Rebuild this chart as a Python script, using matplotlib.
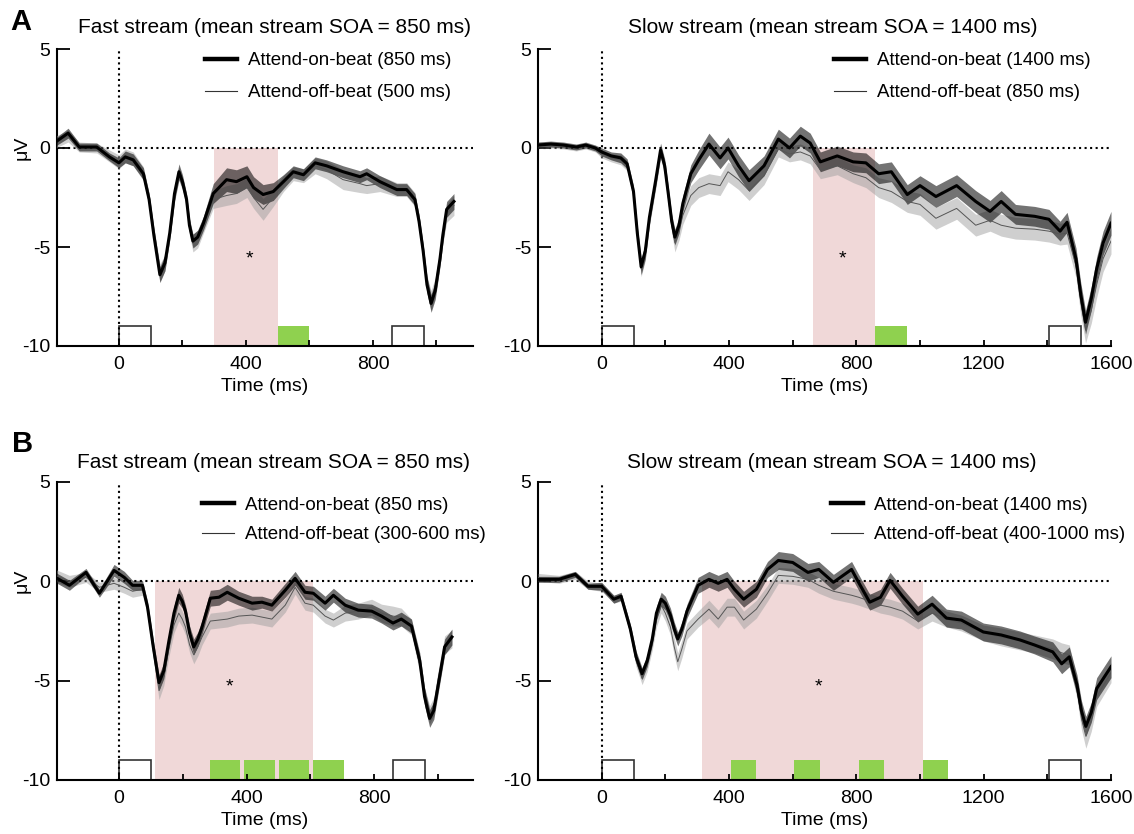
import matplotlib
matplotlib.use('Agg')
import numpy as np
import matplotlib.pyplot as plt
from matplotlib.lines import Line2D

plt.rcParams['font.family'] = ['Liberation Sans', 'DejaVu Sans']
plt.rcParams['axes.unicode_minus'] = False

# ---- panel A, fast stream ----
t_a1 = [-200, -160, -125, -70, -30, 0, 20, 45, 77, 95, 110, 129, 145, 160, 175, 189, 200, 213, 222, 233,
        248, 266, 297, 339, 370, 403, 424, 454, 486, 518, 549, 581, 618, 654, 706, 759, 780, 822, 875, 906,
        932, 945, 958, 970, 983, 996, 1011, 1020, 1032, 1055]
on_a1 = [0.3, 0.75, 0.05, 0.05, -0.45, -0.75, -0.45, -0.6, -1.3, -2.6, -4.4, -6.4, -5.8, -4.3, -2.3, -1.2, -1.7, -2.6, -3.9, -4.7,
         -4.5, -3.8, -2.3, -1.6, -1.7, -1.45, -2.0, -2.35, -2.2, -1.7, -1.2, -1.35, -0.75, -0.9, -1.2, -1.45, -1.3, -1.7, -2.1, -2.1,
         -2.6, -3.7, -5.2, -6.9, -7.85, -7.2, -5.6, -4.4, -3.1, -2.7]
off_a1 = [0.3, 0.6, 0.05, 0.0, -0.4, -0.7, -0.4, -0.55, -1.3, -2.6, -4.4, -6.3, -5.8, -4.3, -2.4, -1.3, -1.8, -2.7, -4.0, -4.8,
          -4.6, -3.9, -2.6, -2.4, -2.3, -2.0, -2.5, -3.1, -2.5, -1.8, -1.3, -1.4, -0.9, -1.1, -1.6, -1.8, -1.9, -1.8, -2.1, -2.1,
          -2.6, -3.8, -5.3, -6.9, -7.7, -7.0, -5.5, -4.4, -3.3, -2.9]
on_sem_a1 = [0.2, 0.25, 0.2, 0.2, 0.2, 0.25, 0.3, 0.3, 0.3, 0.3, 0.35, 0.4, 0.4, 0.35, 0.35, 0.4, 0.35, 0.3, 0.35, 0.35,
             0.35, 0.35, 0.5, 0.6, 0.6, 0.55, 0.55, 0.5, 0.45, 0.35, 0.3, 0.3, 0.3, 0.3, 0.3, 0.3, 0.3, 0.3, 0.3, 0.3,
             0.3, 0.35, 0.35, 0.4, 0.45, 0.45, 0.4, 0.4, 0.4, 0.4]
off_sem_a1 = [0.3, 0.3, 0.25, 0.25, 0.3, 0.35, 0.35, 0.35, 0.35, 0.35, 0.4, 0.45, 0.4, 0.35, 0.35, 0.35, 0.35, 0.35, 0.4, 0.45,
              0.45, 0.4, 0.45, 0.5, 0.5, 0.5, 0.55, 0.55, 0.45, 0.4, 0.35, 0.35, 0.4, 0.45, 0.5, 0.45, 0.4, 0.4, 0.35, 0.35,
              0.35, 0.4, 0.4, 0.45, 0.5, 0.45, 0.45, 0.45, 0.45, 0.5]

# ---- panel A, slow stream ----
t_a2 = [-200, -160, -120, -80, -50, -20, 0, 30, 60, 80, 100, 112, 124, 137, 150, 170, 185, 198, 210, 220,
        230, 243, 255, 280, 305, 337, 372, 397, 430, 463, 510, 555, 590, 624, 655, 687, 740, 790, 830, 870,
        910, 960, 1000, 1050, 1115, 1175, 1220, 1255, 1300, 1360, 1405, 1440, 1462, 1490, 1505, 1520, 1538, 1555, 1575, 1600]
on_a2 = [0.15, 0.2, 0.15, 0.05, 0.15, 0.0, -0.2, -0.4, -0.5, -0.8, -2.2, -4.3, -6.0, -5.2, -3.5, -1.6, -0.1, -0.9, -2.4, -3.7,
         -4.5, -3.9, -2.8, -1.3, -0.6, 0.2, -0.5, 0.0, -0.9, -1.65, -0.9, 0.45, 0.0, 0.6, 0.25, -0.7, -0.4, -0.7, -0.75, -1.3,
         -1.2, -2.35, -1.9, -2.45, -1.9, -2.7, -3.2, -2.7, -3.35, -3.45, -3.6, -4.2, -3.75, -5.6, -7.4, -8.8, -7.6, -6.1, -4.8, -3.8]
off_a2 = [0.15, 0.15, 0.1, 0.0, 0.1, -0.05, -0.3, -0.5, -0.6, -0.9, -2.3, -4.4, -6.1, -5.3, -3.6, -1.7, -0.2, -1.0, -2.6, -3.9,
          -4.8, -4.2, -3.4, -2.4, -2.0, -1.8, -1.9, -1.2, -1.6, -2.15, -1.4, -0.05, -0.3, -0.2, -0.4, -1.1, -0.9, -1.3, -1.5, -2.0,
          -2.2, -2.7, -2.85, -3.55, -3.05, -3.9, -3.65, -3.9, -4.05, -4.1, -4.2, -4.35, -4.3, -5.95, -7.8, -9.2, -8.2, -6.9, -5.6, -4.7]
on_sem_a2 = [0.15, 0.15, 0.15, 0.15, 0.15, 0.15, 0.2, 0.2, 0.25, 0.25, 0.3, 0.35, 0.4, 0.4, 0.35, 0.35, 0.35, 0.35, 0.35, 0.35,
             0.4, 0.4, 0.4, 0.45, 0.5, 0.55, 0.55, 0.55, 0.55, 0.55, 0.5, 0.5, 0.5, 0.5, 0.5, 0.5, 0.5, 0.5, 0.5, 0.5,
             0.5, 0.5, 0.5, 0.55, 0.55, 0.55, 0.55, 0.55, 0.5, 0.5, 0.5, 0.5, 0.5, 0.55, 0.6, 0.6, 0.6, 0.6, 0.6, 0.6]
off_sem_a2 = [0.15, 0.15, 0.15, 0.15, 0.15, 0.15, 0.2, 0.2, 0.25, 0.25, 0.3, 0.35, 0.4, 0.4, 0.35, 0.35, 0.35, 0.35, 0.35, 0.4,
              0.45, 0.45, 0.45, 0.5, 0.5, 0.5, 0.5, 0.5, 0.5, 0.5, 0.45, 0.4, 0.4, 0.4, 0.4, 0.45, 0.45, 0.45, 0.5, 0.5,
              0.55, 0.55, 0.55, 0.55, 0.55, 0.55, 0.55, 0.55, 0.55, 0.55, 0.55, 0.55, 0.55, 0.6, 0.65, 0.65, 0.65, 0.65, 0.65, 0.65]

# ---- panel B, fast stream ----
t_b1 = [-200, -156, -104, -62, -16, 16, 42, 73, 89, 107, 125, 140, 156, 172, 187, 198, 208, 221, 234, 247,
        260, 286, 313, 339, 375, 417, 448, 479, 521, 552, 583, 609, 646, 672, 709, 750, 792, 823, 859, 885,
        917, 943, 958, 974, 987, 1000, 1021, 1044]
on_b1 = [0.2, -0.2, 0.45, -0.6, 0.55, 0.2, -0.2, -0.2, -1.3, -3.3, -5.1, -4.5, -3.0, -1.6, -0.7, -1.0, -1.5, -2.6, -3.3, -2.9,
         -2.3, -0.85, -0.8, -0.55, -0.85, -1.1, -1.05, -1.2, -0.45, 0.15, -0.55, -0.6, -1.1, -0.7, -1.2, -1.45, -1.5, -1.75, -2.1, -1.9,
         -2.25, -4.0, -5.8, -6.9, -6.5, -5.3, -3.3, -2.8]
off_b1 = [0.3, 0.0, 0.2, -0.3, -0.1, -0.3, -0.5, -0.4, -1.4, -3.5, -5.5, -4.8, -3.4, -2.2, -1.6, -1.9, -2.3, -3.2, -3.7, -3.3,
          -2.8, -2.0, -1.95, -1.9, -1.75, -1.7, -1.8, -1.9, -1.2, -0.3, -1.1, -1.2, -1.75, -1.95, -1.6, -1.5, -1.3, -1.6, -1.75, -1.8,
          -2.3, -4.2, -5.8, -6.7, -6.3, -5.0, -3.2, -2.9]
on_sem_b1 = [0.25, 0.25, 0.2, 0.2, 0.3, 0.3, 0.25, 0.25, 0.3, 0.35, 0.4, 0.4, 0.35, 0.35, 0.4, 0.35, 0.3, 0.35, 0.4, 0.35,
             0.35, 0.4, 0.4, 0.4, 0.35, 0.35, 0.3, 0.3, 0.35, 0.35, 0.35, 0.35, 0.35, 0.35, 0.35, 0.35, 0.35, 0.35, 0.35, 0.35,
             0.35, 0.4, 0.45, 0.45, 0.45, 0.4, 0.4, 0.4]
off_sem_b1 = [0.3, 0.3, 0.25, 0.25, 0.3, 0.3, 0.3, 0.3, 0.3, 0.4, 0.45, 0.45, 0.4, 0.4, 0.4, 0.4, 0.4, 0.4, 0.45, 0.45,
              0.4, 0.4, 0.4, 0.4, 0.4, 0.4, 0.4, 0.4, 0.35, 0.35, 0.35, 0.35, 0.35, 0.35, 0.4, 0.4, 0.4, 0.45, 0.5, 0.45,
              0.4, 0.4, 0.45, 0.45, 0.45, 0.45, 0.45, 0.45]

# ---- panel B, slow stream ----
t_b2 = [-200, -134, -83, -43, 0, 38, 61, 90, 108, 127, 143, 159, 172, 187, 200, 216, 228, 239, 252, 268,
        303, 337, 366, 394, 417, 446, 486, 521, 555, 600, 648, 682, 728, 785, 807, 842, 876, 906, 945, 993,
        1038, 1083, 1130, 1199, 1255, 1314, 1359, 1417, 1445, 1469, 1493, 1507, 1521, 1538, 1555, 1600]
on_b2 = [0.1, 0.1, 0.35, -0.25, -0.25, -0.9, -0.75, -2.4, -3.8, -4.65, -4.0, -2.9, -1.6, -0.9, -1.1, -1.7, -2.4, -2.9, -2.4, -1.5,
         -0.2, 0.1, -0.1, 0.1, -0.4, -0.9, -0.4, 0.6, 1.05, 0.95, 0.45, 0.6, -0.05, 0.6, -0.05, -1.05, -0.8, 0.05, -0.75, -1.65,
         -1.15, -1.85, -1.95, -2.55, -2.7, -2.95, -3.2, -3.55, -4.15, -3.8, -5.2, -6.5, -7.3, -6.6, -5.4, -4.3]
off_b2 = [0.2, 0.1, 0.3, -0.2, -0.3, -0.9, -0.8, -2.5, -4.0, -4.9, -4.2, -3.1, -1.9, -1.2, -1.6, -2.3, -3.3, -4.05, -3.4, -2.5,
          -1.9, -1.4, -1.9, -1.3, -1.3, -1.95, -1.4, -0.6, 0.3, 0.25, 0.1, -0.2, -0.5, -0.7, -0.8, -1.0, -1.2, -1.3, -1.5, -2.0,
          -1.6, -1.9, -2.1, -2.6, -2.8, -3.0, -3.15, -3.4, -3.6, -3.7, -5.4, -6.9, -7.8, -7.0, -5.8, -4.6]
on_sem_b2 = [0.15, 0.15, 0.15, 0.15, 0.2, 0.2, 0.2, 0.25, 0.3, 0.3, 0.3, 0.3, 0.35, 0.35, 0.35, 0.35, 0.35, 0.35, 0.35, 0.35,
             0.4, 0.4, 0.4, 0.4, 0.4, 0.4, 0.4, 0.4, 0.45, 0.45, 0.45, 0.4, 0.4, 0.4, 0.4, 0.4, 0.4, 0.4, 0.4, 0.4,
             0.45, 0.45, 0.45, 0.45, 0.45, 0.45, 0.45, 0.5, 0.5, 0.5, 0.5, 0.5, 0.5, 0.5, 0.55, 0.55]
off_sem_b2 = [0.2, 0.2, 0.2, 0.2, 0.2, 0.2, 0.2, 0.25, 0.3, 0.3, 0.35, 0.35, 0.4, 0.4, 0.4, 0.4, 0.45, 0.45, 0.45, 0.4,
              0.4, 0.45, 0.45, 0.45, 0.45, 0.45, 0.45, 0.4, 0.4, 0.4, 0.4, 0.4, 0.4, 0.4, 0.4, 0.4, 0.4, 0.4, 0.4, 0.4,
              0.4, 0.4, 0.4, 0.4, 0.45, 0.45, 0.45, 0.5, 0.5, 0.5, 0.5, 0.55, 0.6, 0.55, 0.5, 0.5]

# windows, tone boxes and stars (ms)
pink_a1, green_a1, white_a1, star_a1 = (300, 500), [(500, 100)], [0, 860], (410, -5.6)
pink_a2, green_a2, white_a2, star_a2 = (663, 860), [(860, 100)], [0, 1405], (757, -5.6)
pink_b1, star_b1 = (112, 607), (347, -5.3)
green_b1 = [(284, 96), (393, 96), (500, 96), (608, 96)]
white_b1 = [0, 860]
pink_b2, star_b2 = (314, 1008), (682, -5.3)
green_b2 = [(405, 80), (605, 80), (807, 80), (1008, 80)]
white_b2 = [0, 1405]

title_fast = 'Fast stream (mean stream SOA = 850 ms)'
title_slow = 'Slow stream (mean stream SOA = 1400 ms)'
leg_a1 = ['Attend-on-beat (850 ms)', 'Attend-off-beat (500 ms)']
leg_a2 = ['Attend-on-beat (1400 ms)', 'Attend-off-beat (850 ms)']
leg_b1 = ['Attend-on-beat (850 ms)', 'Attend-off-beat (300-600 ms)']
leg_b2 = ['Attend-on-beat (1400 ms)', 'Attend-off-beat (400-1000 ms)']

PINK = '#f0d8d8'
GREEN = '#8fd14f'


def draw_panel(ax, t, on, off, on_sem, off_sem, xlim, wide, pink, greens, whites, star,
               title, title_xy, labels, leg_xy, leg_spacing, ylabel):
    t = np.array(t)
    on, off = np.array(on), np.array(off)
    on_sem, off_sem = np.array(on_sem), np.array(off_sem)

    ax.bar(pink[0], 10, width=pink[1] - pink[0], bottom=-10, align='edge', color=PINK, lw=0, zorder=0)
    for start, w in greens:
        ax.bar(start, 1, width=w, bottom=-10, align='edge', color=GREEN, lw=0, zorder=1)
    for start in whites:
        ax.bar(start, 1, width=100, bottom=-10, align='edge', facecolor='white',
               edgecolor='#333333', lw=1.2, zorder=1)

    ax.axhline(0, color='k', ls=':', lw=1.5, zorder=2)
    ax.axvline(0, color='k', ls=':', lw=1.5, zorder=2)

    ax.fill_between(t, off - off_sem, off + off_sem, color='#a0a0a0', alpha=0.5, lw=0, zorder=3)
    ax.fill_between(t, on - on_sem, on + on_sem, color='k', alpha=0.55, lw=0, zorder=3.1)
    ax.plot(t, off, color='#555555', lw=0.7, zorder=4, solid_joinstyle='round')
    ax.plot(t, on, color='k', lw=2.2, zorder=5, solid_joinstyle='round')

    ax.text(star[0], star[1], '*', ha='center', va='center', fontsize=14, zorder=6)

    ax.set_xlim(*xlim)
    ax.set_ylim(-10, 5)
    if wide:
        ax.set_xticks([0, 400, 800, 1200, 1600])
        ax.set_xticks([200, 600, 1000, 1400], minor=True)
    else:
        ax.set_xticks([0, 400, 800])
        ax.set_xticks([200, 600, 1000], minor=True)
    ax.set_yticks([5, 0, -5, -10])
    ax.tick_params(axis='x', which='both', direction='in', length=4.5, width=1.3, labelsize=14, pad=7)
    ax.tick_params(axis='y', direction='in', length=9, width=1.3, labelsize=14, pad=5)
    for s in ['top', 'right']:
        ax.spines[s].set_visible(False)
    for s in ['left', 'bottom']:
        ax.spines[s].set_linewidth(1.5)
    ax.set_xlabel('Time (ms)', fontsize=14, labelpad=4)
    if ylabel:
        ax.text(-0.085, 0.667, 'μV', transform=ax.transAxes, rotation=90,
                ha='center', va='center', fontsize=14)

    ax.text(title_xy[0], title_xy[1], title, transform=ax.transAxes,
            ha='center', va='center', fontsize=15)

    handles = [Line2D([], [], color='k', lw=3.2), Line2D([], [], color='#333333', lw=0.8)]
    ax.legend(handles, labels, loc='upper left', bbox_to_anchor=leg_xy, frameon=False,
              fontsize=13.5, handlelength=1.7, handletextpad=0.6, labelspacing=leg_spacing,
              borderpad=0, borderaxespad=0)


fig = plt.figure(figsize=(11.34, 8.34), dpi=100)
W, H = 1134.0, 834.0
ax_a1 = fig.add_axes([57 / W, 1 - 346 / H, 416 / W, 297 / H])
ax_a2 = fig.add_axes([538 / W, 1 - 346 / H, 573 / W, 297 / H])
ax_b1 = fig.add_axes([57 / W, 1 - 780 / H, 416 / W, 298 / H])
ax_b2 = fig.add_axes([538 / W, 1 - 780 / H, 573 / W, 298 / H])

draw_panel(ax_a1, t_a1, on_a1, off_a1, on_sem_a1, off_sem_a1, (-195, 1115), False,
           pink_a1, green_a1, white_a1, star_a1, title_fast, (0.522, 1.074), leg_a1, (0.356, 0.99), 0.8, True)
draw_panel(ax_a2, t_a2, on_a2, off_a2, on_sem_a2, off_sem_a2, (-200, 1600), True,
           pink_a2, green_a2, white_a2, star_a2, title_slow, (0.514, 1.074), leg_a2, (0.517, 0.99), 0.8, False)
draw_panel(ax_b1, t_b1, on_b1, off_b1, on_sem_b1, off_sem_b1, (-195, 1110), False,
           pink_b1, green_b1, white_b1, star_b1, title_fast, (0.52, 1.067), leg_b1, (0.349, 0.95), 0.65, True)
draw_panel(ax_b2, t_b2, on_b2, off_b2, on_sem_b2, off_sem_b2, (-200, 1600), True,
           pink_b2, green_b2, white_b2, star_b2, title_slow, (0.513, 1.067), leg_b2, (0.511, 0.95), 0.65, False)

fig.text(10 / W, 1 - 22 / H, 'A', fontsize=21, fontweight='bold', ha='left', va='center')
fig.text(12 / W, 1 - 444 / H, 'B', fontsize=21, fontweight='bold', ha='left', va='center')

fig.savefig('out.png', dpi=100)
